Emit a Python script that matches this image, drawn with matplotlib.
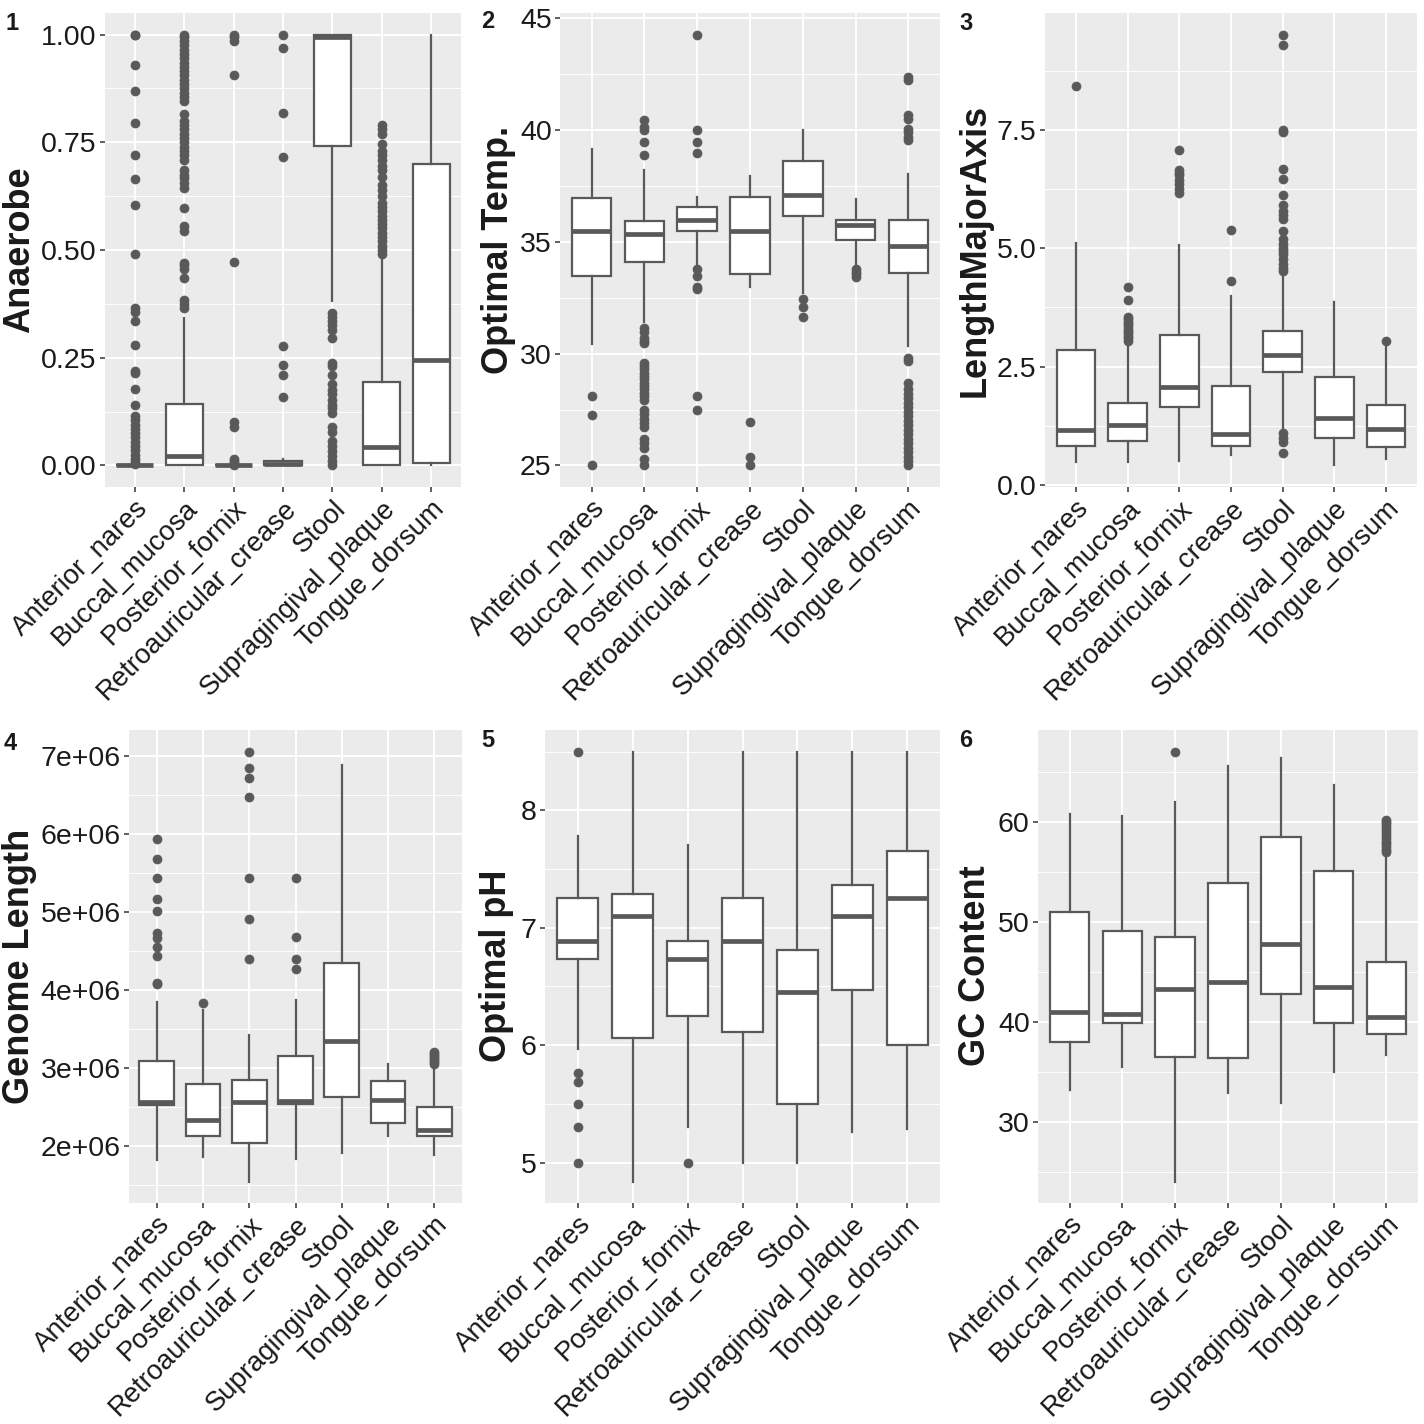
import matplotlib
matplotlib.use("Agg")
import matplotlib.pyplot as plt
import matplotlib.transforms as mtransforms

plt.rcParams['font.family'] = ['Liberation Sans', 'DejaVu Sans']

# ---------------- data ----------------
sites = ["Anterior_nares", "Buccal_mucosa", "Posterior_fornix", "Retroauricular_crease",
         "Stool", "Supragingival_plaque", "Tongue_dorsum"]

# Panel 1: Anaerobe
anaer_q1 = [0.0, 0.0, 0.0, 0.0, 0.742, 0.0016, 0.005]
anaer_med = [0.0, 0.021, 0.0, 0.004, 0.995, 0.042, 0.244]
anaer_q3 = [0.0, 0.143, 0.0, 0.010, 1.0, 0.193, 0.699]
anaer_lo = [0.0, 0.0, 0.0, 0.0, 0.381, 0.0, 0.0]
anaer_hi = [0.0, 0.343, 0.0, 0.016, 1.0, 0.478, 1.0]
anaer_out = [
    [1.0, 1.0, 0.93, 0.87, 0.795, 0.72, 0.665, 0.605, 0.49, 0.365, 0.355, 0.335, 0.28, 0.22,
     0.215, 0.178, 0.141, 0.115, 0.105, 0.095, 0.085, 0.075, 0.065, 0.055, 0.045, 0.035,
     0.025, 0.015, 0.008, 0.004],
    [0.365, 0.375, 0.385, 0.435, 0.455, 0.465, 0.47, 0.545, 0.555, 0.597, 0.645, 0.655, 0.667,
     0.675, 0.685, 0.71, 0.72, 0.73, 0.74, 0.75, 0.76, 0.77, 0.78, 0.79, 0.80, 0.815, 0.845,
     0.855, 0.865, 0.875, 0.885, 0.895, 0.905, 0.915, 0.925, 0.935, 0.945, 0.955, 0.965,
     0.975, 0.985, 0.995, 1.0],
    [1.0, 0.995, 0.986, 0.905, 0.471, 0.100, 0.090, 0.016, 0.010, 0.005, 0.001],
    [1.0, 0.969, 0.819, 0.715, 0.278, 0.234, 0.211, 0.160],
    [0.354, 0.345, 0.335, 0.325, 0.315, 0.296, 0.238, 0.230, 0.211, 0.188, 0.176, 0.165,
     0.153, 0.141, 0.133, 0.122, 0.090, 0.078, 0.056, 0.045, 0.033, 0.022, 0.010, 0.0],
    [0.49, 0.50, 0.51, 0.52, 0.53, 0.54, 0.55, 0.56, 0.57, 0.58, 0.59, 0.60, 0.61, 0.625,
     0.64, 0.65, 0.67, 0.685, 0.695, 0.71, 0.72, 0.73, 0.745, 0.77, 0.78, 0.79],
    [],
]

# Panel 2: Optimal Temp.
temp_q1 = [33.49, 34.12, 35.48, 33.56, 36.18, 35.09, 33.61]
temp_med = [35.51, 35.36, 36.0, 35.51, 37.08, 35.76, 34.81]
temp_q3 = [36.97, 35.93, 36.55, 37.0, 38.63, 35.99, 35.99]
temp_lo = [30.43, 31.4, 33.95, 32.97, 32.7, 33.9, 30.35]
temp_hi = [39.17, 38.2, 37.0, 37.97, 40.0, 36.93, 38.05]
temp_out = [
    [28.09, 27.24, 25.0],
    [40.44, 40.14, 40.0, 39.47, 38.9, 31.17, 30.95, 30.72, 30.57, 30.5, 29.6, 29.45, 29.3,
     29.15, 29.0, 28.85, 28.7, 28.55, 28.4, 28.25, 28.1, 27.95, 27.5, 27.3, 27.1, 26.9, 26.7,
     26.2, 26.0, 25.8, 25.3, 25.0],
    [44.28, 40.0, 39.47, 38.98, 33.79, 33.49, 33.0, 32.89, 28.09, 27.47],
    [26.96, 25.37, 25.0],
    [32.44, 32.07, 31.65],
    [33.79, 33.67, 33.56, 33.45],
    [42.38, 42.23, 40.67, 40.52, 40.07, 39.92, 39.7, 39.57, 29.83, 29.68, 28.7, 28.4, 28.2,
     28.0, 27.8, 27.6, 27.4, 27.2, 27.0, 26.8, 26.6, 26.4, 26.2, 26.0, 25.8, 25.6, 25.4,
     25.2, 25.0],
]

# Panel 3: LengthMajorAxis
lma_q1 = [0.83, 0.92, 1.64, 0.83, 2.38, 0.99, 0.81]
lma_med = [1.17, 1.27, 2.07, 1.08, 2.74, 1.41, 1.19]
lma_q3 = [2.85, 1.73, 3.16, 2.10, 3.25, 2.28, 1.69]
lma_lo = [0.48, 0.48, 0.51, 0.64, 1.15, 0.41, 0.55]
lma_hi = [5.12, 2.93, 5.08, 3.99, 4.48, 3.86, 2.95]
lma_out = [
    [8.43],
    [3.05, 3.1, 3.15, 3.2, 3.25, 3.3, 3.35, 3.4, 3.45, 3.5, 3.55, 3.9, 4.18],
    [6.18, 6.25, 6.35, 6.45, 6.55, 6.6, 6.65, 7.08],
    [5.39, 4.32],
    [9.52, 9.3, 7.5, 7.47, 6.67, 6.46, 6.12, 5.92, 5.79, 5.7, 5.61, 5.37, 5.19, 5.1, 5.0,
     4.95, 4.87, 4.77, 4.67, 4.58, 4.52, 1.09, 1.0, 0.9, 0.67],
    [],
    [3.04],
]

# Panel 4: Genome Length
gl_q1 = [2.52e6, 2.12e6, 2.03e6, 2.54e6, 2.62e6, 2.29e6, 2.13e6]
gl_med = [2.56e6, 2.33e6, 2.56e6, 2.57e6, 3.34e6, 2.59e6, 2.20e6]
gl_q3 = [3.09e6, 2.79e6, 2.84e6, 3.15e6, 4.34e6, 2.83e6, 2.50e6]
gl_lo = [1.82e6, 1.86e6, 1.54e6, 1.83e6, 1.91e6, 2.12e6, 1.88e6]
gl_hi = [3.85e6, 3.74e6, 3.42e6, 3.87e6, 6.89e6, 3.05e6, 3.02e6]
gl_out = [
    [5.94e6, 5.68e6, 5.44e6, 5.17e6, 5.01e6, 4.73e6, 4.66e6, 4.55e6, 4.43e6, 4.09e6, 4.08e6],
    [3.83e6],
    [7.06e6, 6.85e6, 6.72e6, 6.47e6, 5.44e6, 4.91e6, 4.39e6],
    [5.44e6, 4.68e6, 4.39e6, 4.27e6],
    [],
    [],
    [3.05e6, 3.08e6, 3.10e6, 3.12e6, 3.15e6, 3.18e6, 3.20e6],
]

# Panel 5: Optimal pH
ph_q1 = [6.73, 6.06, 6.25, 6.11, 5.50, 6.47, 6.00]
ph_med = [6.89, 7.10, 6.73, 6.89, 6.45, 7.10, 7.25]
ph_q3 = [7.25, 7.29, 6.89, 7.25, 6.81, 7.36, 7.65]
ph_lo = [5.97, 4.84, 5.30, 5.00, 5.00, 5.26, 5.29]
ph_hi = [7.78, 8.50, 7.70, 8.50, 8.50, 8.50, 8.50]
ph_out = [
    [8.5, 5.76, 5.69, 5.5, 5.3, 5.0],
    [],
    [5.0],
    [], [], [], [],
]

# Panel 6: GC Content
gc_q1 = [38.0, 39.9, 36.5, 36.4, 42.77, 39.9, 38.77]
gc_med = [41.0, 40.77, 43.23, 44.0, 47.73, 43.43, 40.43]
gc_q3 = [51.0, 49.07, 48.5, 53.83, 58.5, 55.07, 45.93]
gc_lo = [33.17, 35.5, 24.0, 32.83, 31.9, 35.0, 36.67]
gc_hi = [60.73, 60.57, 62.0, 65.57, 66.4, 63.67, 56.8]
gc_out = [
    [], [], [67.0], [], [], [],
    [57.0, 57.2, 57.5, 57.8, 58.0, 58.3, 58.6, 58.9, 59.2, 59.5, 59.8, 60.0, 60.15],
]

panel_labels = ["1", "2", "3", "4", "5", "6"]
y_titles = ["Anaerobe", "Optimal Temp.", "LengthMajorAxis", "Genome Length", "Optimal pH", "GC Content"]
y_ticks = [
    [0.0, 0.25, 0.5, 0.75, 1.0],
    [25, 30, 35, 40, 45],
    [0.0, 2.5, 5.0, 7.5],
    [2e6, 3e6, 4e6, 5e6, 6e6, 7e6],
    [5, 6, 7, 8],
    [30, 40, 50, 60],
]
y_ticklabels = [
    ["0.00", "0.25", "0.50", "0.75", "1.00"],
    ["25", "30", "35", "40", "45"],
    ["0.0", "2.5", "5.0", "7.5"],
    ["2e+06", "3e+06", "4e+06", "5e+06", "6e+06", "7e+06"],
    ["5", "6", "7", "8"],
    ["30", "40", "50", "60"],
]

panels = [
    (anaer_q1, anaer_med, anaer_q3, anaer_lo, anaer_hi, anaer_out),
    (temp_q1, temp_med, temp_q3, temp_lo, temp_hi, temp_out),
    (lma_q1, lma_med, lma_q3, lma_lo, lma_hi, lma_out),
    (gl_q1, gl_med, gl_q3, gl_lo, gl_hi, gl_out),
    (ph_q1, ph_med, ph_q3, ph_lo, ph_hi, ph_out),
    (gc_q1, gc_med, gc_q3, gc_lo, gc_hi, gc_out),
]

# ---------------- layout (pixels) ----------------
W = H = 1424
axes_px = [
    (105, 13, 461, 487),
    (560, 13, 940, 487),
    (1045, 13, 1417, 487),
    (129, 730, 462, 1203),
    (545, 730, 940, 1203),
    (1038, 730, 1418, 1203),
]
ylab_px = [(20, 250), (498, 250), (975, 250), (20, 966), (497, 966), (975, 966)]
num_px = [(12, 23), (488, 22), (966, 23), (10, 743), (488, 741), (966, 741)]

BOXC = "#595959"
fig = plt.figure(figsize=(W / 100, H / 100), dpi=100)

for i, (q1, med, q3, lo, hi, out) in enumerate(panels):
    l, t, r, b = axes_px[i]
    ax = fig.add_axes([l / W, 1 - b / H, (r - l) / W, (b - t) / H])
    ax.set_facecolor("#EBEBEB")
    for s in ax.spines.values():
        s.set_visible(False)

    stats = []
    for k in range(len(sites)):
        stats.append(dict(q1=q1[k], med=med[k], q3=q3[k], whislo=lo[k], whishi=hi[k],
                          fliers=out[k], label=sites[k]))
    pos = list(range(1, len(sites) + 1))
    ax.bxp(stats, positions=pos, widths=0.75, patch_artist=True, showcaps=False,
           boxprops=dict(facecolor="white", edgecolor=BOXC, linewidth=1.6),
           medianprops=dict(color=BOXC, linewidth=3.4, solid_capstyle="butt"),
           whiskerprops=dict(color=BOXC, linewidth=1.6),
           flierprops=dict(marker="o", markerfacecolor=BOXC, markeredgecolor=BOXC,
                           markersize=6.5, markeredgewidth=0.5),
           zorder=3)

    yt = y_ticks[i]
    ax.set_yticks(yt)
    ax.set_yticklabels(y_ticklabels[i])
    step = yt[1] - yt[0]
    minors = [yt[0] - step / 2] + [v + step / 2 for v in yt]
    ax.set_yticks(minors, minor=True)
    ax.set_xticks(pos)
    ax.set_xticklabels(sites, rotation=45, ha="right", va="top", rotation_mode="anchor")
    offset = mtransforms.ScaledTranslation(10 / 100, 0, fig.dpi_scale_trans)
    for lab in ax.get_xticklabels():
        lab.set_transform(lab.get_transform() + offset)

    # limits after ticks (ticks may otherwise widen the view)
    allv = list(lo) + list(hi)
    for o in out:
        allv += list(o)
    vmin, vmax = min(allv), max(allv)
    pad = (vmax - vmin) * 0.05
    ax.set_ylim(vmin - pad, vmax + pad)
    ax.set_xlim(0.4, len(sites) + 0.6)

    ax.grid(True, which="major", color="white", linewidth=1.4, zorder=0)
    ax.grid(True, which="minor", axis="y", color="white", linewidth=0.7, zorder=0)
    ax.set_axisbelow(True)
    ax.tick_params(axis="both", which="major", length=3.5, width=1.1, color="#333333",
                   labelcolor="#1a1a1a", pad=2.5)
    ax.tick_params(axis="y", which="major", labelsize=20.5)
    ax.tick_params(axis="x", which="major", labelsize=19.8)
    ax.tick_params(axis="both", which="minor", length=0)

    xl, yl = ylab_px[i]
    fig.text(xl / W, 1 - yl / H, y_titles[i], rotation=90, ha="center", va="center",
             fontsize=26, fontweight="bold", color="#1a1a1a")
    xn, yn = num_px[i]
    fig.text(xn / W, 1 - yn / H, panel_labels[i], ha="center", va="center",
             fontsize=17, fontweight="bold", color="#1a1a1a")

fig.savefig("out.png", dpi=100, facecolor="white")
